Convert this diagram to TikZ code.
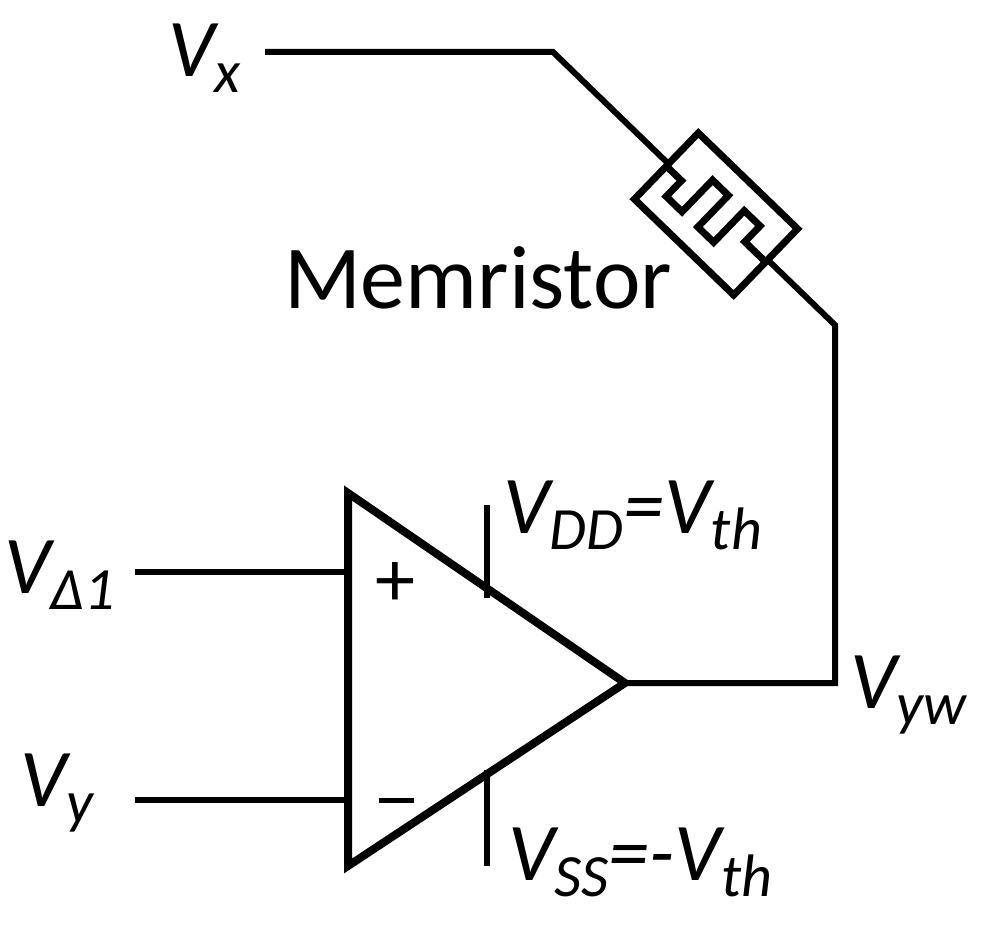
\documentclass[tikz,border=0pt]{standalone}
\usepackage{fontspec}
\setmainfont{Carlito}
\newcommand\mysub[1]{\raisebox{-16pt}{\fontsize{60}{62}\selectfont #1}}
\begin{document}
\begin{tikzpicture}[x=1pt,y=-1pt,
  wire/.style={line width=6pt,line join=miter},
  lbl/.style={font=\fontsize{82}{86}\selectfont\itshape,inner sep=0pt}]
\useasboundingbox (0,0) rectangle (999,931);
\coordinate (a) at (265,52);
\coordinate (b) at (553,52);
\coordinate (c) at (835,325);
\coordinate (d) at (835,683);
\coordinate (o) at (625,683);
\coordinate (m) at (716,214);
% wires
\draw[wire] (a) -- (b) -- (c) -- (d) -- (o);
% memristor
\begin{scope}[shift={(m)},rotate=-44]
\fill[white] (-69,-46) rectangle (69,46);
\draw[wire,line width=7pt] (-69,-46) rectangle (69,46);
\draw[wire,line width=7pt] (-69,0) -- (-48,0) -- (-48,22) -- (-26,22) -- (-26,-22) -- (-4,-22) -- (-4,22) -- (18,22) -- (18,-22) -- (40,-22) -- (40,0) -- (69,0);
\end{scope}
% op-amp
\coordinate (t1) at (348,493);
\coordinate (t2) at (348,866);
\draw[line width=8pt,line join=miter] (t1) -- (o) -- (t2) -- cycle;
\coordinate (p1) at (135,572);
\coordinate (p2) at (348,572);
\coordinate (n1) at (135,800);
\coordinate (n2) at (348,800);
\draw[wire] (p1) -- (p2);
\draw[wire] (n1) -- (n2);
\coordinate (s1) at (487,505);
\coordinate (s2) at (487,598);
\coordinate (s3) at (487,770);
\coordinate (s4) at (487,866);
\draw[wire] (s1) -- (s2);
\draw[wire] (s3) -- (s4);
\node[inner sep=0pt,font=\fontsize{80}{84}\selectfont] (plus) at (395,585) {+};
\draw[line width=5pt] (379,800) -- (414,800);
% labels
\node[lbl,anchor=west] (vx) at (168,58) {V\mysub{x}};
\node[font=\fontsize{90}{94}\selectfont,inner sep=0pt] (mem) at (478,278) {Memristor};
\node[lbl,anchor=west] (vd) at (4,575) {V\mysub{Δ1}};
\node[lbl,anchor=west] (vy) at (20,793) {V\mysub{y}};
\node[lbl,anchor=west] (vdd) at (503,515) {V\mysub{DD}=V\mysub{th}};
\node[lbl,anchor=west] (vss) at (508,862) {V\mysub{SS}=-V\mysub{th}};
\node[lbl,anchor=west] (vyw) at (850,695) {V\mysub{yw}};
\end{tikzpicture}
\end{document}
